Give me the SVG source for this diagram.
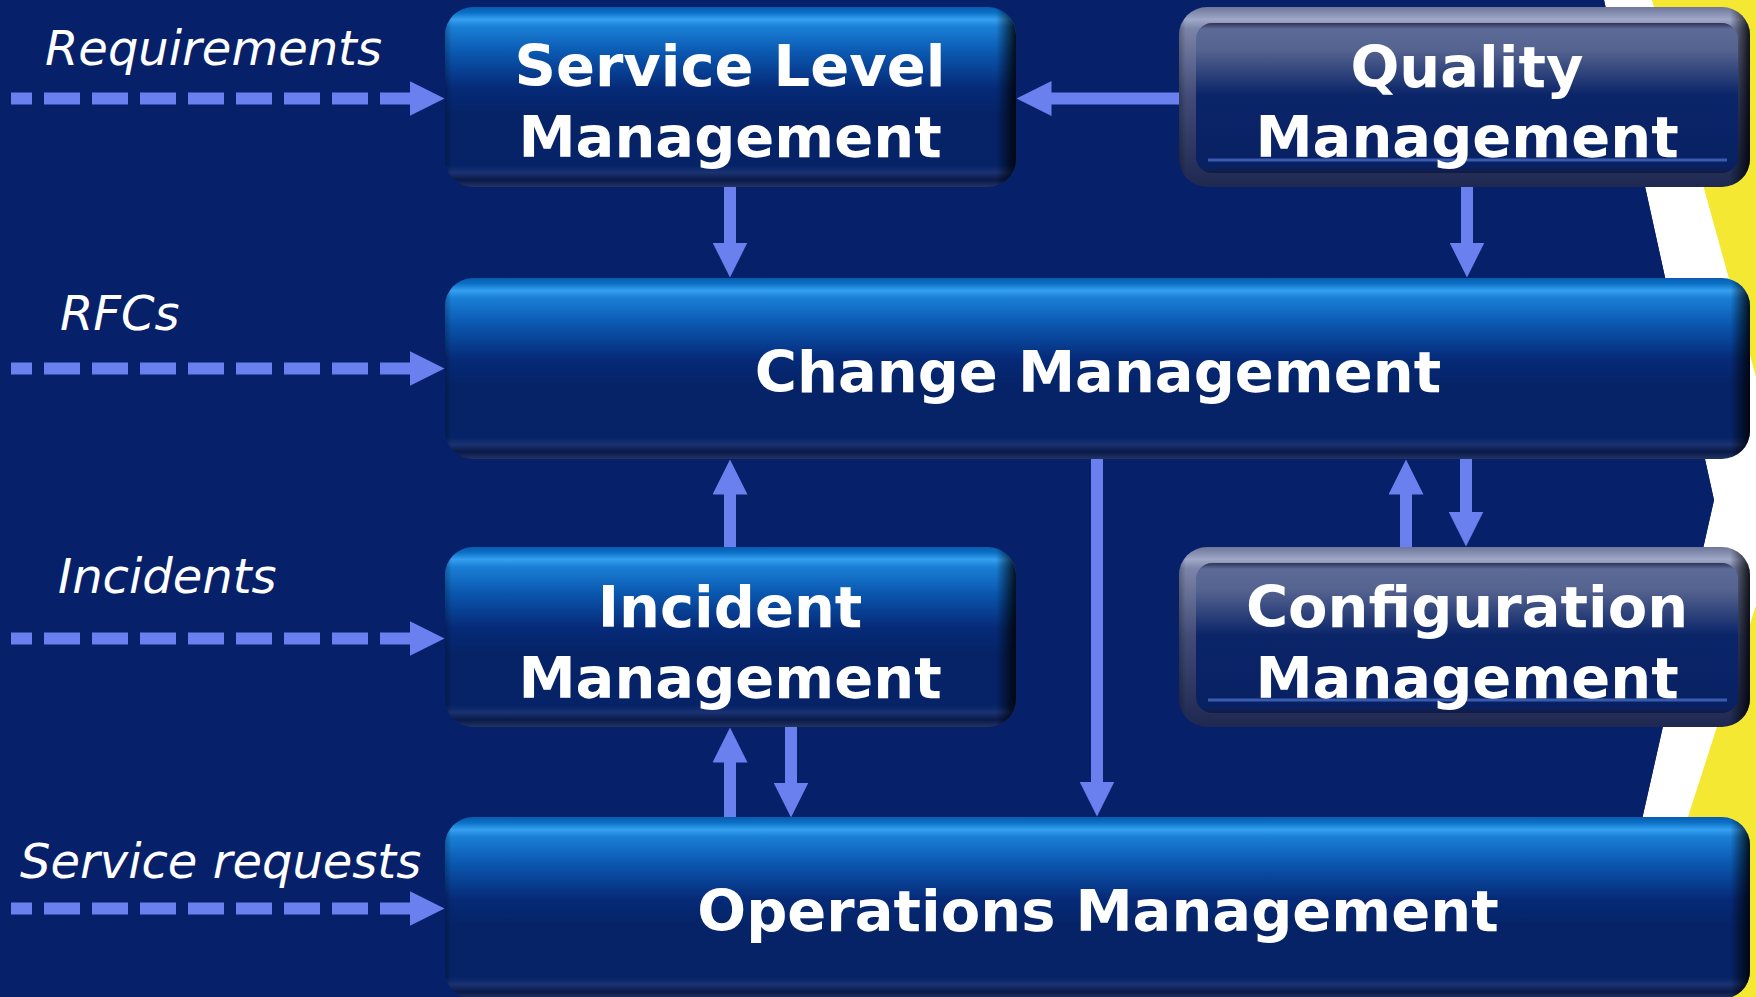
<svg xmlns="http://www.w3.org/2000/svg" width="1756" height="997" viewBox="0 0 1756 997">
<defs>
<linearGradient id="blueV" x1="0" y1="0" x2="0" y2="1">
<stop offset="0" stop-color="#0a5aae"/>
<stop offset="0.03" stop-color="#0a70c6"/>
<stop offset="0.07" stop-color="#36a0f0"/>
<stop offset="0.11" stop-color="#1a7fd6"/>
<stop offset="0.26" stop-color="#0a56ae"/>
<stop offset="0.45" stop-color="#062a78"/>
<stop offset="0.6" stop-color="#052366"/>
<stop offset="0.88" stop-color="#052366"/>
<stop offset="0.92" stop-color="#1a3272"/>
<stop offset="0.96" stop-color="#0a1a48"/>
<stop offset="1" stop-color="#243462"/>
</linearGradient>
<linearGradient id="edgeN" x1="0" y1="0" x2="1" y2="0">
<stop offset="0" stop-color="#000" stop-opacity="0.25"/>
<stop offset="0.012" stop-color="#000" stop-opacity="0"/>
<stop offset="0.965" stop-color="#000" stop-opacity="0"/>
<stop offset="1" stop-color="#000" stop-opacity="0.85"/>
</linearGradient>
<linearGradient id="edgeW" x1="0" y1="0" x2="1" y2="0">
<stop offset="0" stop-color="#000" stop-opacity="0.25"/>
<stop offset="0.005" stop-color="#000" stop-opacity="0"/>
<stop offset="0.985" stop-color="#000" stop-opacity="0"/>
<stop offset="1" stop-color="#000" stop-opacity="0.85"/>
</linearGradient>
<linearGradient id="frameV" x1="0" y1="0" x2="0" y2="1">
<stop offset="0" stop-color="#6e779a"/>
<stop offset="0.07" stop-color="#a0a8c8"/>
<stop offset="0.12" stop-color="#7c84a8"/>
<stop offset="0.5" stop-color="#414b76"/>
<stop offset="1" stop-color="#1e2850"/>
</linearGradient>
<linearGradient id="innerV" x1="0" y1="0" x2="0" y2="1">
<stop offset="0" stop-color="#2e3554"/>
<stop offset="0.04" stop-color="#5c6a98"/>
<stop offset="0.18" stop-color="#55638f"/>
<stop offset="0.48" stop-color="#0b2569"/>
<stop offset="0.96" stop-color="#082163"/>
<stop offset="1" stop-color="#141c40"/>
</linearGradient>
<marker id="head" viewBox="0 0 35 35" markerWidth="35" markerHeight="35" markerUnits="userSpaceOnUse" refX="0.5" refY="17.5" orient="auto">
<path d="M0,0 L35,17.5 L0,35 Z" fill="#6a80ee"/>
</marker>
</defs>
<style>
.bt{font-family:"DejaVu Sans","Liberation Sans",sans-serif;font-weight:bold;font-size:57.5px;fill:#fff;text-anchor:middle}
.lb{font-family:"DejaVu Sans","Liberation Sans",sans-serif;font-style:italic;font-size:48px;fill:#fff}
.ar{stroke:#6a80ee;stroke-width:12;fill:none;marker-end:url(#head)}
.da{stroke:#6a80ee;stroke-width:12;fill:none;stroke-dasharray:36 12;stroke-dashoffset:15;marker-end:url(#head)}
</style>
<rect x="0" y="0" width="1756" height="997" fill="#07206a"/>
<polygon points="1604,0 1756,0 1756,997 1602,997 1714,500" fill="#ffffff"/>
<polygon points="1652,0 1756,0 1756,997 1630,997 1790,500" fill="#f5e832"/>
<polygon points="0,0 1604,0 1714,500 1602,997 0,997" fill="#07206a"/>

<g id="connectors">
<line class="da" x1="11" y1="98.5" x2="410" y2="98.5"/>
<line class="da" x1="11" y1="368.5" x2="410" y2="368.5"/>
<line class="da" x1="11" y1="638.5" x2="410" y2="638.5"/>
<line class="da" x1="11" y1="908.5" x2="410" y2="908.5"/>
<line class="ar" x1="1182" y1="98.5" x2="1051" y2="98.5"/>
<line class="ar" x1="730" y1="185" x2="730" y2="243"/>
<line class="ar" x1="1467" y1="185" x2="1467" y2="243"/>
<line class="ar" x1="730" y1="550" x2="730" y2="494"/>
<line class="ar" x1="1097" y1="457" x2="1097" y2="782"/>
<line class="ar" x1="1406" y1="550" x2="1406" y2="494"/>
<line class="ar" x1="1466" y1="457" x2="1466" y2="512"/>
<line class="ar" x1="730" y1="820" x2="730" y2="762"/>
<line class="ar" x1="791" y1="725" x2="791" y2="783"/>
</g>

<g id="slm">
<rect x="445" y="7" width="571" height="180" rx="28" fill="url(#blueV)"/>
<rect x="445" y="7" width="571" height="180" rx="28" fill="url(#edgeN)"/>
<text class="bt" x="730" y="86">Service Level</text>
<text class="bt" x="730" y="157">Management</text>
</g>

<g id="qm">
<rect x="1179" y="7" width="571" height="180" rx="28" fill="url(#frameV)"/>
<rect x="1179" y="7" width="571" height="180" rx="28" fill="url(#edgeN)"/>
<rect x="1196" y="23" width="542" height="150" rx="16" fill="url(#innerV)"/>
<line x1="1208" y1="160" x2="1727" y2="160" stroke="#3a5cb0" stroke-width="3"/>
<text class="bt" x="1467" y="87">Quality</text>
<text class="bt" x="1467" y="157">Management</text>
</g>

<g id="cm">
<rect x="445" y="278" width="1305" height="181" rx="28" fill="url(#blueV)"/>
<rect x="445" y="278" width="1305" height="181" rx="28" fill="url(#edgeW)"/>
<text class="bt" x="1098" y="392">Change Management</text>
</g>

<g id="im">
<rect x="445" y="547" width="571" height="180" rx="28" fill="url(#blueV)"/>
<rect x="445" y="547" width="571" height="180" rx="28" fill="url(#edgeN)"/>
<text class="bt" x="730" y="627">Incident</text>
<text class="bt" x="730" y="698">Management</text>
</g>

<g id="cfg">
<rect x="1179" y="547" width="571" height="180" rx="28" fill="url(#frameV)"/>
<rect x="1179" y="547" width="571" height="180" rx="28" fill="url(#edgeN)"/>
<rect x="1196" y="563" width="542" height="150" rx="16" fill="url(#innerV)"/>
<line x1="1208" y1="700" x2="1727" y2="700" stroke="#3a5cb0" stroke-width="3"/>
<text class="bt" x="1467" y="627">Configuration</text>
<text class="bt" x="1467" y="698">Management</text>
</g>

<g id="om">
<rect x="445" y="817" width="1305" height="182" rx="28" fill="url(#blueV)"/>
<rect x="445" y="817" width="1305" height="182" rx="28" fill="url(#edgeW)"/>
<text class="bt" x="1098" y="931">Operations Management</text>
</g>

<g id="labels">
<text class="lb" x="45" y="65">Requirements</text>
<text class="lb" x="60" y="330">RFCs</text>
<text class="lb" x="58" y="593">Incidents</text>
<text class="lb" x="20" y="878">Service requests</text>
</g>
</svg>
